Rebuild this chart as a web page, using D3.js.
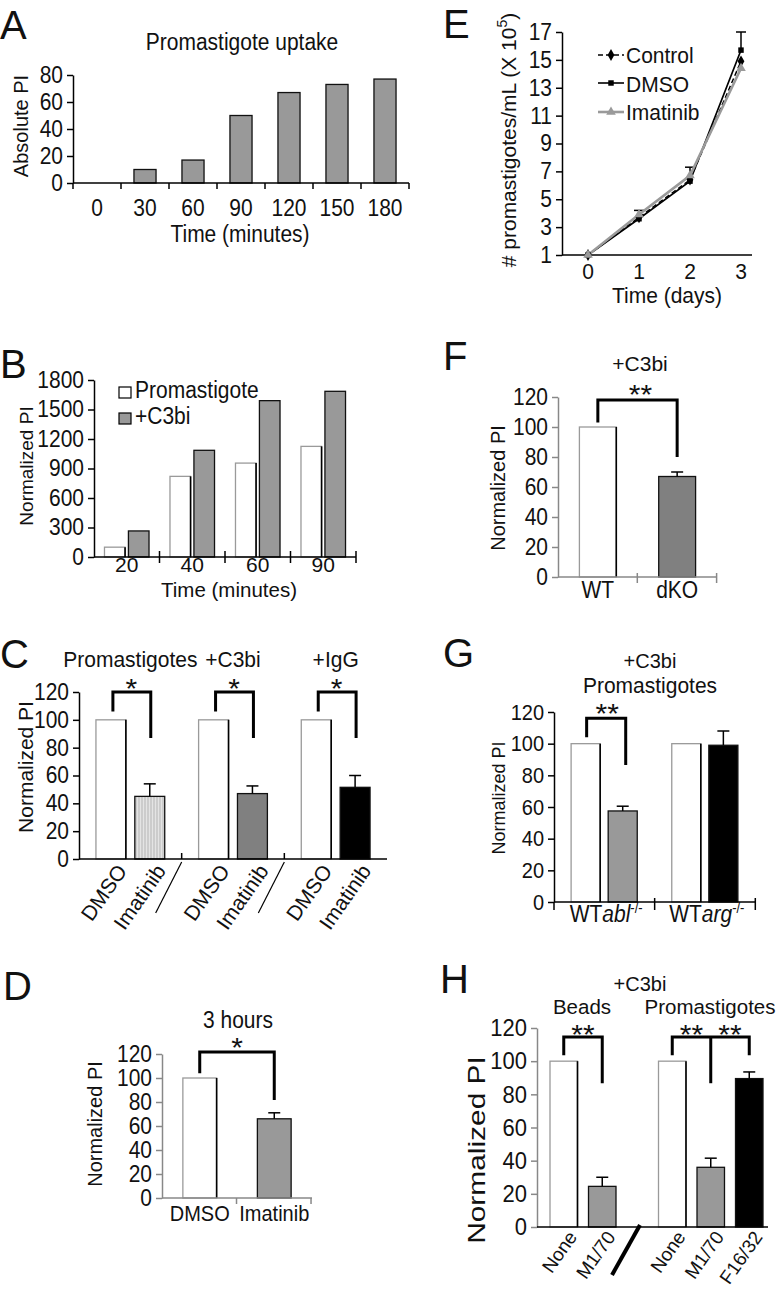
<!DOCTYPE html>
<html><head><meta charset="utf-8">
<script src="https://cdn.jsdelivr.net/npm/d3@7"></script>
<style>body{margin:0;background:#fff} svg{display:block}</style>
</head><body>
<svg id="chart" width="780" height="1290"></svg>
<script>
// ---------------- DATA ----------------
const aCategories = ["0","30","60","90","120","150","180"];
const aValues = [0, 10, 17, 50, 67, 73, 77];
const aTicks = [0, 20, 40, 60, 80];

const bCategories = ["20","40","60","90"];
const bSeries = ["Promastigote","+C3bi"];
const bPromastigote = [100, 820, 955, 1125];
const bC3bi = [265, 1085, 1590, 1685];
const bTicks = [0, 300, 600, 900, 1200, 1500, 1800];

const cGroups = ["Promastigotes","+C3bi","+IgG"];
const cConditions = ["DMSO","Imatinib"];
const cDMSO = [100, 100, 100];
const cImatinib = [45, 47, 51.5];
const cImatinibErr = [54, 52.5, 60];
const pctTicks = [0, 20, 40, 60, 80, 100, 120];

const dConditions = ["DMSO","Imatinib"];
const dValues = [100, 66];
const dErr = [null, 71];

const eDays = [0, 1, 2, 3];
const eControl = [1, 3.7, 6.4, 14.9];
const eDMSO = [1, 3.6, 6.3, 15.7];
const eImatinib = [1, 3.9, 6.7, 14.4];
const eErrTop = [null, 4.2, 7.3, 17.0];
const eTicks = [1, 3, 5, 7, 9, 11, 13, 15, 17];

const fConditions = ["WT","dKO"];
const fValues = [100, 67];
const fErr = [null, 70];

const gGroups = ["abl","arg"];
const gConditions = ["WT","KO"];
const gWT = [100, 100];
const gKO = [57.5, 99];
const gKOErr = [60.5, 108];

const hBeadsLabels = ["None","M1/70"];
const hBeadsValues = [100, 24.5];
const hBeadsErr = [null, 30];
const hPromLabels = ["None","M1/70","F16/32"];
const hPromValues = [100, 36, 89.5];
const hPromErr = [null, 41.5, 93.5];

// ---------------- HELPERS ----------------
const FONT = "'Liberation Sans', Arial, Helvetica, sans-serif";
const SY = 1.1;
const svg = d3.select("#chart").attr("font-family", FONT);
const defs = svg.append("defs");
const pat = defs.append("pattern").attr("id","stripe").attr("width",3).attr("height",4).attr("patternUnits","userSpaceOnUse");
pat.append("rect").attr("width",3).attr("height",4).attr("fill","#e4e4e4");
pat.append("line").attr("x1",1).attr("x2",1).attr("y1",0).attr("y2",4).attr("stroke","#b4b4b4").attr("stroke-width",1);

function txt(x, y, s, o = {}) {
  let tr = `translate(${x},${y})`;
  if (o.rot) tr += ` rotate(${o.rot})`;
  const sx = o.sx || 1, sy = o.sy || (o.rot ? 1 : SY);
  if (sx !== 1 || sy !== 1) tr += ` scale(${sx},${sy})`;
  const t = svg.append("text").attr("transform", tr)
    .attr("font-size", o.size || 21)
    .attr("text-anchor", o.anchor || "middle")
    .attr("fill", "#111");
  if (s !== null) t.text(s);
  return t;
}
function line(x1, y1, x2, y2, color = "#000", w = 1.5) {
  return svg.append("line").attr("x1", x1).attr("y1", y1).attr("x2", x2).attr("y2", y2)
    .attr("stroke", color).attr("stroke-width", w);
}
function yAxis(x, y, ticks, o = {}) {
  const g = svg.append("g").attr("transform", `translate(${x},0)`)
    .call(d3.axisLeft(y).tickValues(ticks).tickFormat(d3.format("d")).tickSize(6).tickSizeOuter(0).tickPadding(o.pad || 4));
  g.attr("font-family", FONT).attr("font-size", o.size || 21);
  g.selectAll("path,line").attr("stroke", o.color || "#000").attr("stroke-width", 1.5);
  g.selectAll("text").attr("fill", "#111").attr("transform", `scale(1,${SY})`);
  return g;
}
function bar(x, w, y0, y1, fill) {
  const r = svg.append("rect").attr("x", x).attr("y", y1).attr("width", w).attr("height", y0 - y1).attr("fill", fill);
  if (fill === "#fff") {
    r.attr("stroke", "#9a9a9a").attr("stroke-width", 1.3);
    line(x + w, y1, x + w, y0, "#000", 1.6);
  } else {
    r.attr("stroke", "#111").attr("stroke-width", 1.3);
  }
}
function errBar(cx, yv, ye, cap = 6) {
  line(cx, yv, cx, ye, "#000", 1.5);
  line(cx - cap, ye, cx + cap, ye, "#000", 1.5);
}
function bracket(xs, yTop, yEnds) {
  const n = xs.length;
  svg.append("path")
    .attr("d", `M${xs[0]},${yEnds[0]}V${yTop}H${xs[n-1]}V${yEnds[n-1]}`)
    .attr("fill", "none").attr("stroke", "#000").attr("stroke-width", 3);
  for (let i = 1; i < n - 1; i++) line(xs[i], yTop, xs[i], yEnds[i], "#000", 3);
}
function stars(x, glyphTop, s) { return txt(x, glyphTop + 20, s, { size: 28, sx: 1.07, sy: 1 }); }
function letter(x, y, s) { return txt(x, y, s, { size: 40, anchor: "start", sy: 1.02 }); }

// ---------------- PANEL A ----------------
{
  const x = d3.scaleBand().domain(aCategories).range([73, 409]).paddingInner(0.54).paddingOuter(0.27);
  const y = d3.scaleLinear().domain([0, 80]).range([183, 75]);
  aCategories.forEach((c, i) => { if (aValues[i] > 0) bar(x(c), x.bandwidth(), y(0), y(aValues[i]), "#999"); });
  yAxis(73, y, aTicks);
  line(73, y(0), 409, y(0));
  for (let i = 0; i <= aCategories.length; i++) line(73 + i * x.step(), y(0), 73 + i * x.step(), y(0) + 6);
  aCategories.forEach(c => txt(x(c) + x.bandwidth() / 2, 216, c));
  txt(242, 50, "Promastigote uptake");
  txt(28, 126, "Absolute PI", { rot: -90, size: 20 });
  txt(240, 242, "Time (minutes)");
  letter(0, 39, "A");
}

// ---------------- PANEL B ----------------
{
  const x = d3.scaleBand().domain(bCategories).range([94, 356]).paddingInner(0.32).paddingOuter(0.16);
  const xi = d3.scaleBand().domain(bSeries).range([0, x.bandwidth()]).paddingInner(0.14);
  const y = d3.scaleLinear().domain([0, 1800]).range([557, 380]);
  bCategories.forEach((c, i) => {
    bar(x(c) + xi(bSeries[0]), xi.bandwidth(), y(0), y(bPromastigote[i]), "#fff");
    bar(x(c) + xi(bSeries[1]), xi.bandwidth(), y(0), y(bC3bi[i]), "#999");
  });
  yAxis(94, y, bTicks);
  line(94, y(0), 356, y(0));
  for (let i = 1; i <= bCategories.length; i++) line(94 + i * x.step(), y(0) - 6, 94 + i * x.step(), y(0) + 6);
  bCategories.forEach(c => txt(x(c) + x.bandwidth() / 2, 572, c, { sy: 1 }));
  svg.append("rect").attr("x", 119).attr("y", 387).attr("width", 12).attr("height", 11).attr("fill", "#fff").attr("stroke", "#000").attr("stroke-width", 1.2);
  txt(135, 398, bSeries[0], { anchor: "start" });
  svg.append("rect").attr("x", 119).attr("y", 413).attr("width", 12).attr("height", 11).attr("fill", "#999").attr("stroke", "#000").attr("stroke-width", 1.2);
  txt(135, 424, bSeries[1], { anchor: "start" });
  txt(229, 597, "Time (minutes)", { size: 20.5, sy: 1 });
  txt(33, 466, "Normalized PI", { rot: -90, size: 19 });
  letter(0, 378, "B");
}

// ---------------- PANEL C ----------------
{
  const x = d3.scaleBand().domain(cGroups).range([79, 387]).paddingInner(0.33).paddingOuter(0.165);
  const xi = d3.scaleBand().domain(cConditions).range([0, x.bandwidth()]).paddingInner(0.23);
  const y = d3.scaleLinear().domain([0, 120]).range([859, 692]);
  const fills = ["url(#stripe)", "#808080", "#000"];
  cGroups.forEach((g, i) => {
    const x0 = x(g) + xi(cConditions[0]), x1 = x(g) + xi(cConditions[1]), w = xi.bandwidth();
    bar(x0, w, y(0), y(cDMSO[i]), "#fff");
    bar(x1, w, y(0), y(cImatinib[i]), fills[i]);
    errBar(x1 + w / 2, y(cImatinib[i]), y(cImatinibErr[i]), 6);
    bracket([x0 + w / 2 + 2, x1 + w / 2 + 1], y(120), [y(106), y(87)]);
    stars((x0 + x1 + w) / 2 + 1, 678, "*");
    txt(x(g) + x.bandwidth() / 2, 667, g, { sy: 1.05 });
    txt(x0 + w + 2, 871, cConditions[0], { rot: -55, size: 21, anchor: "end" });
    txt(x1 + w + 2, 871, cConditions[1], { rot: -55, size: 21, anchor: "end" });
  });
  yAxis(79, y, pctTicks);
  line(79, y(0), 387, y(0));
  for (let i = 1; i < cGroups.length; i++) {
    const bx = 79 + i * x.step();
    line(bx, y(0) - 6, bx, y(0));
    line(bx, y(0) + 3, bx - 26, y(0) + 54, "#000", 1.2);
  }
  txt(33, 767, "Normalized PI", { rot: -90, size: 21 });
  letter(0, 668, "C");
}

// ---------------- PANEL D ----------------
{
  const x = d3.scaleBand().domain(dConditions).range([162, 312]).paddingInner(0.547).paddingOuter(0.28);
  const y = d3.scaleLinear().domain([0, 120]).range([1198, 1054]);
  const fills = ["#fff", "#999"];
  dConditions.forEach((c, i) => {
    bar(x(c), x.bandwidth(), y(0), y(dValues[i]), fills[i]);
    if (dErr[i] != null) errBar(x(c) + x.bandwidth() / 2, y(dValues[i]), y(dErr[i]), 6);
    txt(x(c) + x.bandwidth() / 2, 1221, c, { size: 20 });
  });
  const cA = x(dConditions[0]) + x.bandwidth() / 2, cB = x(dConditions[1]) + x.bandwidth() / 2;
  bracket([cA, cB], y(121.7), [y(104), y(81.7)]);
  stars((cA + cB) / 2, 1037, "*");
  yAxis(162, y, pctTicks, { color: "#888", size: 21 });
  line(162, y(0), 312, y(0), "#888");
  for (let i = 1; i <= dConditions.length; i++) line(162 + i * x.step(), y(0), 162 + i * x.step(), y(0) + 6, "#888");
  txt(238, 1028, "3 hours");
  txt(102, 1124, "Normalized PI", { rot: -90, size: 20 });
  letter(3, 1000, "D");
}

// ---------------- PANEL E ----------------
{
  const x = d3.scaleLinear().domain([0, 3]).range([588, 741]);
  const y = d3.scaleLinear().domain([1, 17]).range([255, 32]);
  yAxis(562, y, eTicks);
  line(562, y(1), 752, y(1));
  eDays.forEach(d => txt(x(d), 279, String(d), { sy: 1.05 }));
  const ln = d3.line().x((d, i) => x(eDays[i])).y(d => y(d));
  eDays.forEach((d, i) => { if (eErrTop[i] != null) errBar(x(d), y(eDMSO[i]), y(eErrTop[i]), 5); });
  svg.append("path").attr("d", ln(eControl)).attr("fill", "none").attr("stroke", "#000").attr("stroke-width", 1.5).attr("stroke-dasharray", "5,3");
  svg.append("path").attr("d", ln(eDMSO)).attr("fill", "none").attr("stroke", "#000").attr("stroke-width", 1.6);
  svg.append("path").attr("d", ln(eImatinib)).attr("fill", "none").attr("stroke", "#9a9a9a").attr("stroke-width", 2.6);
  const sym = (type, size) => d3.symbol().type(type).size(size)();
  eDays.forEach((d, i) => {
    svg.append("path").attr("d", sym(d3.symbolDiamond, 40)).attr("transform", `translate(${x(d)},${y(eControl[i])})`).attr("fill", "#000");
    svg.append("path").attr("d", sym(d3.symbolSquare, 30)).attr("transform", `translate(${x(d)},${y(eDMSO[i])})`).attr("fill", "#000");
    svg.append("path").attr("d", sym(d3.symbolTriangle, 40)).attr("transform", `translate(${x(d)},${y(eImatinib[i])})`).attr("fill", "#9a9a9a");
  });
  const leg = [
    { name: "Control", ly: 55, ty: 63, color: "#000", dash: "5,3", w: 1.5, s: d3.symbolDiamond, ss: 40 },
    { name: "DMSO", ly: 83, ty: 92, color: "#000", dash: null, w: 1.6, s: d3.symbolSquare, ss: 30 },
    { name: "Imatinib", ly: 112, ty: 120, color: "#9a9a9a", dash: null, w: 2.6, s: d3.symbolTriangle, ss: 40 }
  ];
  leg.forEach(l => {
    line(598, l.ly, 624, l.ly, l.color, l.w).attr("stroke-dasharray", l.dash);
    svg.append("path").attr("d", sym(l.s, l.ss)).attr("transform", `translate(611,${l.ly})`).attr("fill", l.color);
    txt(626, l.ty, l.name, { anchor: "start", sy: 1.05 });
  });
  const t = txt(516, 140, null, { rot: -90, size: 21 });
  t.append("tspan").text("# promastigotes/mL (X 10");
  t.append("tspan").attr("font-size", 14).attr("dy", -9).text("5");
  t.append("tspan").attr("dy", 9).text(")");
  txt(667, 303, "Time (days)", { sy: 1.05 });
  letter(443, 38, "E");
}

// ---------------- PANEL F ----------------
{
  const x = d3.scaleBand().domain(fConditions).range([558, 717]).paddingInner(0.535).paddingOuter(0.27);
  const y = d3.scaleLinear().domain([0, 120]).range([577, 397]);
  const fills = ["#fff", "#808080"];
  fConditions.forEach((c, i) => {
    bar(x(c), x.bandwidth(), y(0), y(fValues[i]), fills[i]);
    if (fErr[i] != null) errBar(x(c) + x.bandwidth() / 2, y(fValues[i]), y(fErr[i]), 6);
    txt(x(c) + x.bandwidth() / 2, 598, c);
  });
  const cA = x(fConditions[0]) + x.bandwidth() / 2, cB = x(fConditions[1]) + x.bandwidth() / 2;
  bracket([cA, cB], y(118), [y(103), y(80)]);
  stars((cA + cB) / 2 + 3, 384, "**");
  yAxis(558, y, pctTicks, { color: "#888" });
  line(558, y(0), 717, y(0), "#888");
  for (let i = 1; i <= fConditions.length; i++) line(558 + i * x.step(), y(0) - 4, 558 + i * x.step(), y(0) + 6, "#888");
  txt(640, 371, "+C3bi", { sy: 1 });
  txt(505, 488, "Normalized PI", { rot: -90, size: 20 });
  letter(443, 370, "F");
}

// ---------------- PANEL G ----------------
{
  const x = d3.scaleBand().domain(gGroups).range([554, 755]).paddingInner(0.343).paddingOuter(0.17);
  const xi = d3.scaleBand().domain(gConditions).range([0, x.bandwidth()]).paddingInner(0.216);
  const y = d3.scaleLinear().domain([0, 120]).range([902, 712]);
  const koFills = ["#999", "#000"];
  gGroups.forEach((g, i) => {
    const x0 = x(g) + xi(gConditions[0]), x1 = x(g) + xi(gConditions[1]), w = xi.bandwidth();
    bar(x0, w, y(0), y(gWT[i]), "#fff");
    bar(x1, w, y(0), y(gKO[i]), koFills[i]);
    errBar(x1 + w / 2, y(gKO[i]), y(gKOErr[i]), 6);
    const t = txt(x(g) + x.bandwidth() / 2 + 2, 922, null, { size: 21 });
    t.append("tspan").text("WT");
    t.append("tspan").attr("font-style", "italic").text(g);
    t.append("tspan").attr("font-size", 13).attr("dy", -8).text("-/-");
  });
  {
    const g = gGroups[0], w = xi.bandwidth();
    const cA = x(g) + xi(gConditions[0]) + w / 2 + 1, cB = x(g) + xi(gConditions[1]) + w / 2 + 3;
    bracket([cA, cB], y(116), [y(104), y(86.5)]);
    stars((cA + cB) / 2 + 1, 703, "**");
  }
  yAxis(554, y, pctTicks, { size: 20 });
  line(554, y(0), 755, y(0));
  for (let i = 1; i <= gGroups.length; i++) line(554 + i * x.step(), y(0) - 4, 554 + i * x.step(), y(0) + 8);
  line(554, y(0), 554, y(0) + 8);
  txt(650, 668, "+C3bi", { size: 20, sy: 1 });
  txt(650, 693, "Promastigotes", { sy: 1.02 });
  txt(505, 798, "Normalized PI", { rot: -90, size: 18 });
  letter(443, 667, "G");
}

// ---------------- PANEL H ----------------
{
  const xB = d3.scaleBand().domain(hBeadsLabels).range([544.5, 621.5]).paddingInner(0.286).paddingOuter(0.143);
  const xP = d3.scaleBand().domain(hPromLabels).range([653, 768.5]).paddingInner(0.286).paddingOuter(0.143);
  const y = d3.scaleLinear().domain([0, 120]).range([1227, 1028]);
  const bFills = ["#fff", "#999"], pFills = ["#fff", "#999", "#000"];
  const w = xB.bandwidth();
  hBeadsLabels.forEach((c, i) => {
    bar(xB(c), w, y(0), y(hBeadsValues[i]), bFills[i]);
    if (hBeadsErr[i] != null) errBar(xB(c) + w / 2, y(hBeadsValues[i]), y(hBeadsErr[i]), 6);
    txt(xB(c) + w / 2 + 14, 1237, c, { rot: -55, size: 19, anchor: "end" });
  });
  hPromLabels.forEach((c, i) => {
    bar(xP(c), w, y(0), y(hPromValues[i]), pFills[i]);
    if (hPromErr[i] != null) errBar(xP(c) + w / 2, y(hPromValues[i]), y(hPromErr[i]), 6);
    txt(xP(c) + w / 2 + 14, 1237, c, { rot: -55, size: 19, anchor: "end" });
  });
  const bc = hBeadsLabels.map(c => xB(c) + w / 2);
  const pc = hPromLabels.map(c => xP(c) + w / 2);
  bracket(bc, y(114.5), [y(103.6), y(86.7)]);
  stars((bc[0] + bc[1]) / 2, 1024, "**");
  bracket(pc, y(114.5), [y(103.6), y(86.7), y(103.6)]);
  stars((pc[0] + pc[1]) / 2, 1024, "**");
  stars((pc[1] + pc[2]) / 2, 1024, "**");
  yAxis(537, y, pctTicks, { color: "#888", size: 22 });
  line(537, y(0), 768, y(0));
  line(612, 1275, 640, 1225, "#000", 4);
  txt(640, 991, "+C3bi", { size: 20, sy: 1 });
  txt(582, 1014, "Beads", { size: 20.5, sy: 1 });
  txt(710, 1014, "Promastigotes", { size: 20.5, sy: 1 });
  txt(485, 1150, "Normalized PI", { rot: -90, size: 23, sx: 1.3 });
  letter(440, 993, "H");
}
</script>
</body></html>
